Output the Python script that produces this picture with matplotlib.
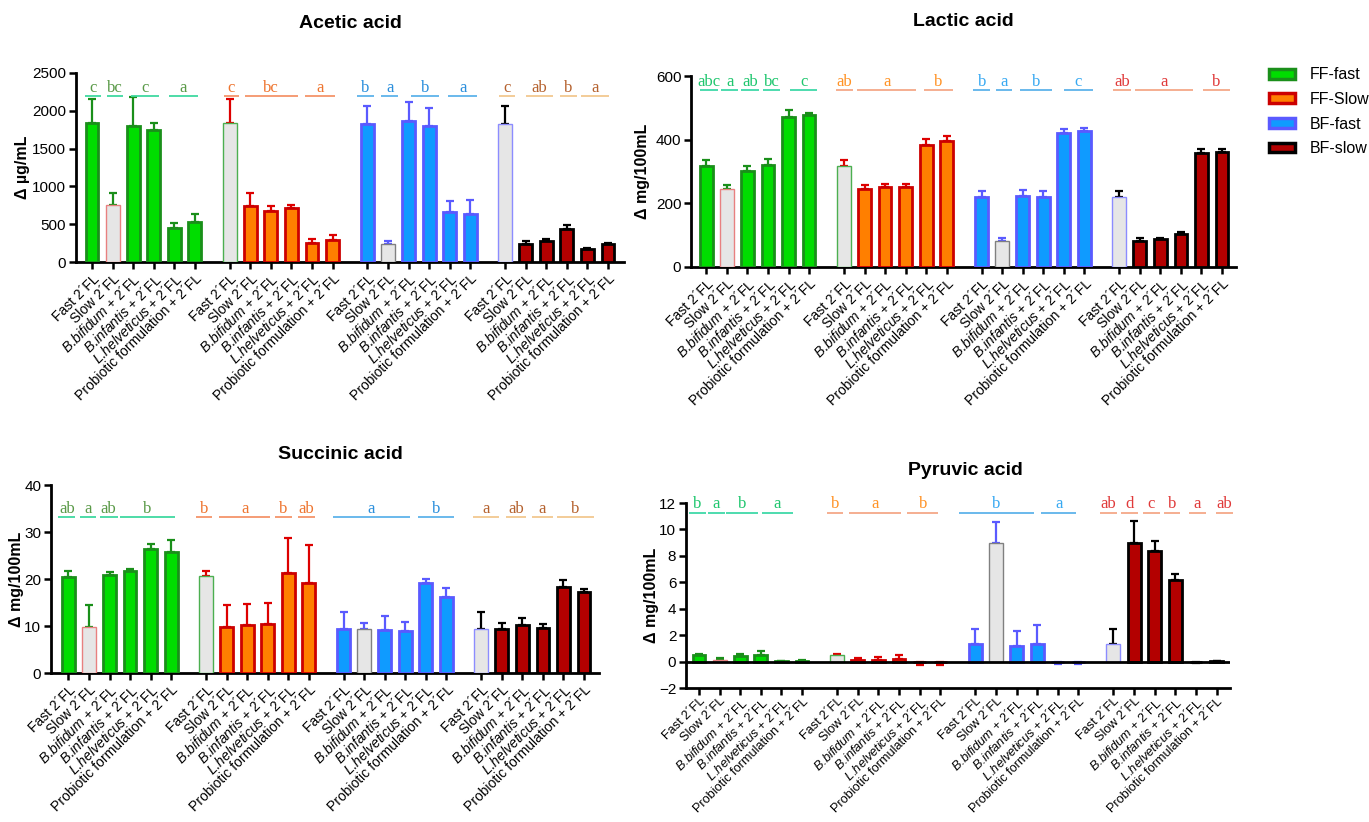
import matplotlib
matplotlib.use("Agg")
import matplotlib.pyplot as plt
from matplotlib.patches import Patch
import numpy as np

plt.rcParams['font.family'] = ['Liberation Sans', 'DejaVu Sans']
plt.rcParams['mathtext.fontset'] = 'custom'
plt.rcParams['mathtext.it'] = 'Liberation Sans:italic'
plt.rcParams['mathtext.rm'] = 'Liberation Sans'

# groups and treatments
groups = ['FF-fast', 'FF-Slow', 'BF-fast', 'BF-slow']
treatments = ["Fast 2´FL", "Slow 2´FL",
              r"$\mathit{B.\!bifidum}$ + 2´FL", r"$\mathit{B.\!infantis}$ + 2´FL",
              r"$\mathit{L.\!helveticus}$ + 2´FL", "Probiotic formulation + 2´FL"]

# mean values (one row per group) and SD
acetic_mean = [[1840, 750, 1800, 1750, 450, 525],
               [1840, 740, 680, 710, 250, 285],
               [1830, 240, 1870, 1800, 660, 630],
               [1830, 240, 280, 430, 170, 240]]
acetic_sd = [[320, 160, 380, 90, 60, 115],
             [320, 170, 60, 50, 60, 75],
             [240, 40, 250, 240, 150, 190],
             [240, 35, 30, 60, 15, 10]]

lactic_mean = [[318, 244, 302, 321, 471, 479],
               [316, 246, 250, 252, 384, 395],
               [221, 82, 223, 221, 421, 426],
               [221, 82, 88, 104, 357, 362]]
lactic_sd = [[18, 13, 15, 18, 21, 5],
             [20, 11, 10, 8, 17, 15],
             [17, 10, 18, 19, 12, 10],
             [17, 9, 4, 7, 15, 8]]

succinic_mean = [[20.5, 9.8, 20.8, 21.7, 26.4, 25.8],
                 [20.6, 9.7, 10.3, 10.5, 21.2, 19.1],
                 [9.3, 9.3, 9.1, 9.0, 19.1, 16.1],
                 [9.3, 9.3, 10.3, 9.5, 18.3, 17.3]]
succinic_sd = [[1.2, 4.6, 0.7, 0.5, 1.0, 2.5],
               [1.1, 4.7, 4.3, 4.3, 7.5, 8.1],
               [3.6, 1.4, 3.1, 1.9, 0.9, 1.9],
               [3.6, 1.4, 1.3, 1.0, 1.5, 0.5]]

pyruvic_mean = [[0.47, 0.1, 0.45, 0.52, 0.02, 0.05],
                [0.5, 0.1, 0.15, 0.2, -0.05, -0.05],
                [1.3, 9.0, 1.15, 1.3, -0.05, -0.05],
                [1.3, 8.95, 8.35, 6.2, -0.05, 0.03]]
pyruvic_sd = [[0.13, 0.15, 0.15, 0.28, 0.06, 0.05],
              [0.1, 0.15, 0.2, 0.3, 0.18, 0.18],
              [1.2, 1.6, 1.15, 1.45, 0.15, 0.12],
              [1.2, 1.7, 0.8, 0.4, 0.06, 0.03]]

# significance letters: (group, from bar, to bar, letter)
acetic_letters = [(0, -0.34, 0.44, 'c'), (0, 0.73, 1.5, 'bc'), (0, 1.9, 3.25, 'c'), (0, 3.74, 5.15, 'a'),
                  (1, -0.3, 0.44, 'c'), (1, 0.73, 3.3, 'bc'), (1, 3.64, 5.1, 'a'),
                  (2, -0.53, 0.3, 'b'), (2, 0.68, 1.5, 'a'), (2, 2.1, 3.5, 'b'), (2, 3.93, 5.34, 'a'),
                  (3, -0.3, 0.49, 'c'), (3, 1.0, 2.33, 'ab'), (3, 2.67, 3.5, 'b'), (3, 3.7, 5.05, 'a')]
lactic_letters = [(0, -0.3, 0.55, 'abc'), (0, 0.7, 1.56, 'a'), (0, 1.7, 2.55, 'ab'), (0, 2.77, 3.6, 'bc'), (0, 4.08, 5.38, 'c'),
                  (1, -0.4, 0.43, 'ab'), (1, 0.65, 3.5, 'a'), (1, 3.9, 5.3, 'b'),
                  (2, -0.4, 0.4, 'b'), (2, 0.7, 1.5, 'a'), (2, 1.87, 3.4, 'b'), (2, 4.0, 5.4, 'c'),
                  (3, -0.29, 0.55, 'ab'), (3, 0.77, 3.6, 'a'), (3, 4.05, 5.4, 'b')]
succinic_letters = [(0, -0.5, 0.34, 'ab'), (0, 0.54, 1.34, 'a'), (0, 1.53, 2.39, 'ab'), (0, 2.49, 5.17, 'b'),
                    (1, -0.5, 0.29, 'b'), (1, 0.63, 3.12, 'a'), (1, 3.38, 4.17, 'b'), (1, 4.47, 5.32, 'ab'),
                    (2, -0.53, 3.24, 'a'), (2, 3.64, 5.39, 'b'),
                    (3, -0.4, 0.84, 'a'), (3, 1.2, 2.18, 'ab'), (3, 2.45, 3.5, 'a'), (3, 3.7, 5.47, 'b')]
pyruvic_letters = [(0, -0.48, 0.33, 'b'), (0, 0.43, 1.24, 'a'), (0, 1.33, 2.86, 'b'), (0, 3.05, 4.57, 'a'),
                   (1, -0.47, 0.3, 'b'), (1, 0.57, 3.1, 'a'), (1, 3.4, 4.9, 'b'),
                   (2, -0.8, 2.86, 'b'), (2, 3.2, 4.9, 'a'),
                   (3, -0.67, 0.19, 'ab'), (3, 0.38, 1.19, 'd'), (3, 1.43, 2.24, 'c'), (3, 2.43, 3.24, 'b'),
                   (3, 3.67, 4.48, 'a'), (3, 4.95, 5.8, 'ab')]

# styles
fill = ['#00dd00', '#ff7f00', '#0f9bff', '#b30000']
edge = ['#1a8f1a', '#cc0000', '#5a5aff', '#000000']
err_col = ['#1a8f1a', '#dd0000', '#5a5aff', '#000000']
grey_idx = [1, 0, 1, 0]
grey_edge = ['#e88080', '#4caf50', '#808080', '#8c8cff']
let_a = ['#5a9a48', '#ee7530', '#2b8fdc', '#b5622f']
line_a = ['#3fd9a0', '#f5946a', '#5eb3ea', '#f2c890']
let_b = ['#1fc66e', '#ff9326', '#38a9f2', '#e03a3a']
line_b = ['#3fd9a8', '#f5a888', '#5eb3ea', '#f5a888']

STEP = 6.7
W, H = 1369, 822

fig = plt.figure(figsize=(W / 100, H / 100), dpi=100)


def box(l, r, t, b):
    return [l / W, 1 - b / H, (r - l) / W, (b - t) / H]


def panel(rect, title, title_xy, means, sds, letters, let_c, line_c, ylim, yticks,
          ylabel, let_y, line_y, xpad, label_dx, zero_line=False, xfs=10, xpad_pt=2):
    ax = fig.add_axes(rect)
    xs_all = []
    for g in range(4):
        x = g * STEP + np.arange(6)
        xs_all.extend(x)
        m = np.array(means[g], dtype=float)
        s = np.array(sds[g], dtype=float)
        for i in range(6):
            if i == grey_idx[g]:
                ax.bar(x[i], m[i], width=0.68, color='#e6e6e6', edgecolor=grey_edge[g],
                       linewidth=1.0, zorder=3)
            else:
                ax.bar(x[i], m[i], width=0.62, color=fill[g], edgecolor=edge[g],
                       linewidth=2.0, zorder=3)
        lo = np.where(m < 0, s, 0)
        hi = np.where(m < 0, 0, s)
        ax.errorbar(x, m, yerr=[lo, hi], fmt='none', ecolor=err_col[g], elinewidth=1.6,
                    capsize=3, capthick=1.6, zorder=2)
    for g, a, b, t in letters:
        x0 = g * STEP
        ax.plot([x0 + a, x0 + b], [line_y, line_y], color=line_c[g], lw=1.3,
                clip_on=False, solid_capstyle='butt')
        ax.text(x0 + (a + b) / 2, let_y, t, color=let_c[g], ha='center', va='baseline',
                fontsize=12, family='Liberation Serif')
    if zero_line:
        ax.axhline(0, color='black', lw=2, zorder=4)
    ax.set_xlim(-xpad[0], 3 * STEP + 5 + xpad[1])
    ax.set_ylim(*ylim)
    ax.set_yticks(yticks)
    ax.set_xticks(xs_all)
    ax.set_xticklabels(treatments * 4, rotation=45, ha='right', va='top',
                       rotation_mode='anchor', fontsize=xfs)
    ax.tick_params(axis='x', length=5, width=1.8, pad=xpad_pt)
    ax.tick_params(axis='y', length=5, width=1.8, labelsize=11, pad=2)
    for sp in ['top', 'right']:
        ax.spines[sp].set_visible(False)
    for sp in ['left', 'bottom']:
        ax.spines[sp].set_linewidth(2)
    ax.set_ylabel(ylabel, fontsize=11.5, fontweight='bold')
    ax.yaxis.set_label_coords(label_dx, 0.5)
    fig.text(title_xy[0] / W, 1 - title_xy[1] / H, title, ha='center', va='center',
             fontsize=14, fontweight='bold')
    return ax


panel(box(76, 624, 73, 262), 'Acetic acid', (350, 23), acetic_mean, acetic_sd, acetic_letters,
      let_a, line_a, (0, 2500), [0, 500, 1000, 1500, 2000, 2500], 'Δ µg/mL',
      2250, 2200, (0.78, 0.78), -0.084)
panel(box(691, 1236, 76, 267), 'Lactic acid', (963, 22), lactic_mean, lactic_sd, lactic_letters,
      let_b, line_b, (0, 600), [0, 200, 400, 600], 'Δ mg/100mL',
      570, 556, (0.75, 0.68), -0.075)
panel(box(51, 599, 485, 673), 'Succinic acid', (340, 454), succinic_mean, succinic_sd, succinic_letters,
      let_a, line_a, (0, 40), [0, 10, 20, 30, 40], 'Δ mg/100mL',
      34.0, 33.1, (0.85, 0.73), -0.049)
panel(box(686, 1230, 503, 688), 'Pyruvic acid', (965, 470), pyruvic_mean, pyruvic_sd, pyruvic_letters,
      let_b, line_b, (-2, 12), [-2, 0, 2, 4, 6, 8, 10, 12], 'Δ mg/100mL',
      11.64, 11.27, (0.63, 0.65), -0.05, zero_line=True, xfs=9.2, xpad_pt=0.5)

handles = [Patch(facecolor=fill[i], edgecolor=edge[i], linewidth=2.5, label=groups[i]) for i in range(4)]
fig.legend(handles=handles, loc='upper left', bbox_to_anchor=(1255 / W, 1 - 53 / H),
           frameon=False, fontsize=11.5, handlelength=1.6, handleheight=0.55,
           labelspacing=0.6, handletextpad=0.9)

fig.savefig('out.png', dpi=100)
